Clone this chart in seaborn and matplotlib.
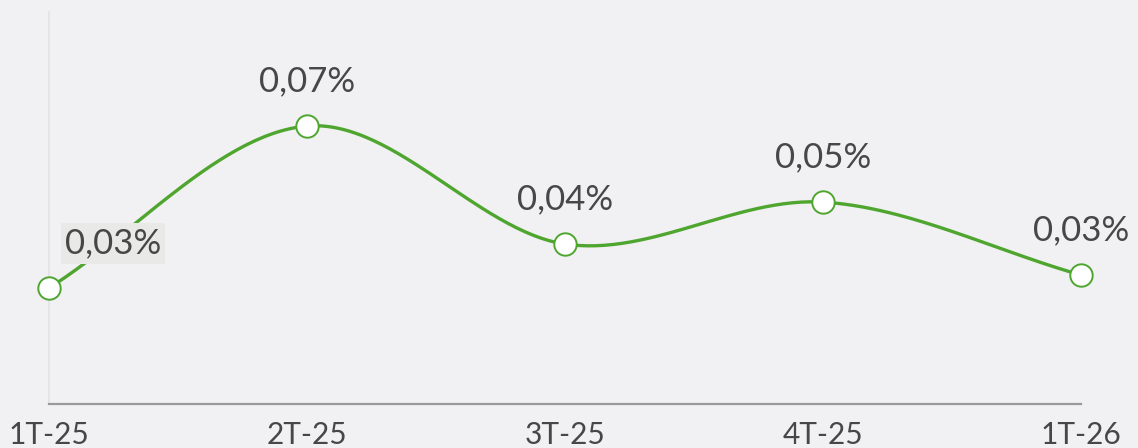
import numpy as np
import pandas as pd
import matplotlib
matplotlib.use("Agg")
import matplotlib.pyplot as plt
import seaborn as sns

categories = ["1T-25", "2T-25", "3T-25", "4T-25", "1T-26"]
values = [0.0296, 0.0709, 0.0408, 0.0515, 0.0329]
labels = ["0,03%", "0,07%", "0,04%", "0,05%", "0,03%"]

BG = "#f1f0f3"
GREEN = "#4ea62f"
TXT = "#474747"

sns.set_theme(style="white")
plt.rcParams["font.family"] = ["Lato", "DejaVu Sans"]

fig = plt.figure(figsize=(11.38, 4.48), dpi=100, facecolor=BG)
ax = fig.add_axes([49 / 1138, 44 / 448, (1081 - 49) / 1138, (404 - 12) / 448])
ax.set_facecolor(BG)

df = pd.DataFrame({"x": np.arange(len(categories)), "y": values})

# smooth Catmull-Rom curve through the points (rendering only)
xs, ys = df["x"].to_numpy(float), df["y"].to_numpy(float)
px = np.concatenate([[2 * xs[0] - xs[1]], xs, [2 * xs[-1] - xs[-2]]])
py = np.concatenate([[2 * ys[0] - ys[1]], ys, [2 * ys[-1] - ys[-2]]])
cx, cy = [], []
t = np.linspace(0, 1, 60)
for i in range(1, len(px) - 2):
    p0, p1, p2, p3 = py[i - 1], py[i], py[i + 1], py[i + 2]
    a = 0.5 * (2 * p1 + (-p0 + p2) * t + (2 * p0 - 5 * p1 + 4 * p2 - p3) * t**2
               + (-p0 + 3 * p1 - 3 * p2 + p3) * t**3)
    cx.extend(px[i] + (px[i + 1] - px[i]) * t)
    cy.extend(a)
curve = pd.DataFrame({"x": cx, "y": cy})
sns.lineplot(data=curve, x="x", y="y", ax=ax, color=GREEN, linewidth=2.4,
             sort=False, clip_on=False, zorder=3)
sns.scatterplot(data=df, x="x", y="y", ax=ax, s=260, color="white",
                edgecolor=GREEN, linewidth=1.4, zorder=4, clip_on=False)

for i, (x, y, lab) in enumerate(zip(xs, ys, labels)):
    dx = 64 if i == 0 else 0
    kw = {}
    if i == 0:
        kw["bbox"] = dict(boxstyle="square,pad=0.12", facecolor="#e9e9e7", edgecolor="none")
    ax.annotate(lab, (x, y), xytext=(dx * 0.72, 32), textcoords="offset points",
                ha="center", va="center", fontsize=25, color=TXT, zorder=5, **kw)

ax.set_xlim(0, len(categories) - 1)
ax.set_ylim(0, 0.1)
ax.set_xticks(df["x"])
ax.set_xticklabels(categories, fontsize=21.5, color=TXT)
ax.set_yticks([])
ax.set_xlabel("")
ax.set_ylabel("")
ax.tick_params(axis="x", length=0, pad=12)
for s in ["top", "right"]:
    ax.spines[s].set_visible(False)
ax.spines["bottom"].set_color("#9a9a9a")
ax.spines["bottom"].set_linewidth(1.6)
ax.spines["left"].set_color("#e3e2e5")
ax.spines["left"].set_linewidth(1.2)

fig.savefig("out.png", dpi=100, facecolor=BG)
